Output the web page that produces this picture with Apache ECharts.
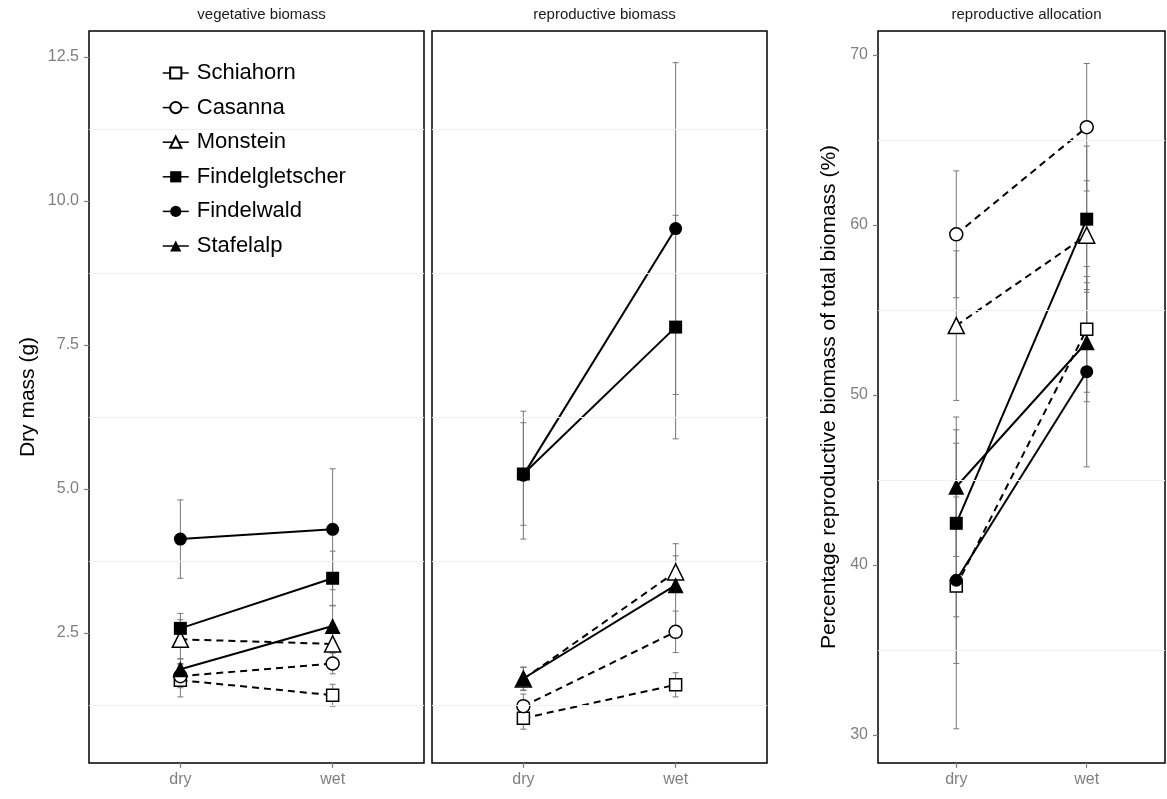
<!DOCTYPE html>
<html>
<head>
<meta charset="utf-8">
<script src="https://cdn.jsdelivr.net/npm/echarts@6/dist/echarts.min.js"></script>
<style>html,body{margin:0;padding:0;background:#fff;}#c{width:1167px;height:799px;}</style>
</head>
<body>
<div id="c"></div>
<script>
// ---- data ----
const sites = ['Schiahorn','Casanna','Monstein','Findelgletscher','Findelwald','Stafelalp'];
const treatments = ['dry','wet'];
const treatmentX = [1, 2];
const panelTitles = ['vegetative biomass','reproductive biomass','reproductive allocation'];
// means [dry, wet] per site (order as sites)
const vegMean = [[1.68,1.42],[1.75,1.97],[2.39,2.31],[2.58,3.45],[4.13,4.30],[1.87,2.62]];
const vegErr  = [[0.29,0.19],[0.20,0.18],[0.34,0.30],[0.26,0.47],[0.68,1.05],[0.18,0.35]];
const repMean = [[1.02,1.60],[1.23,2.52],[1.70,3.56],[5.26,7.81],[5.24,9.52],[1.71,3.33]];
const repErr  = [[0.19,0.21],[0.21,0.36],[0.20,0.28],[0.89,1.94],[1.11,2.88],[0.20,0.72]];
const allocMean = [[38.76,53.86],[59.45,65.75],[54.08,59.40],[42.45,60.34],[39.10,51.37],[44.60,53.10]];
const allocErr  = [[8.40,3.70],[3.73,3.75],[4.40,3.20],[5.50,4.30],[4.90,5.60],[4.10,3.50]];
const massTicks = [2.5, 5.0, 7.5, 10.0, 12.5];
const massMinor = [1.25, 3.75, 6.25, 8.75, 11.25];
const allocTicks = [30, 40, 50, 60, 70];
const allocMinor = [35, 45, 55, 65];

// ---- styles ----
const symbols = ['rect','circle','triangle','rect','circle','triangle'];
const symSizes = [12, 13, 16, 13, 13, 16];
const filled = [false,false,false,true,true,true];
const dashed = [true,true,true,false,false,false];
const FONT = 'Liberation Sans, Arial, Helvetica, sans-serif';

const grids = [
  {left: 89, top: 31, width: 335, height: 732},
  {left: 432, top: 31, width: 335, height: 732},
  {left: 878, top: 31, width: 287, height: 732}
].map(g => Object.assign(g, {show: true, borderColor: '#000', borderWidth: 1.5, backgroundColor: '#fff', containLabel: false}));

function xAxis(i) {
  return {
    type: 'value', gridIndex: i, min: 0.4, max: 2.6,
    splitLine: {show: false}, axisLine: {show: false},
    axisTick: {show: true, length: 5, lineStyle: {color: '#7f7f7f', width: 1.2}, customValues: treatmentX},
    axisLabel: {show: true, color: '#7f7f7f', fontSize: 16, fontFamily: FONT, margin: 9,
      customValues: treatmentX, formatter: v => treatments[treatmentX.indexOf(v)] || ''}
  };
}
function yAxis(i, min, max, ticks, showLabels, name, nameGap) {
  return {
    type: 'value', gridIndex: i, min: min, max: max,
    splitLine: {show: false}, axisLine: {show: false},
    axisTick: {show: showLabels, length: 5, lineStyle: {color: '#7f7f7f', width: 1.2}, customValues: ticks},
    axisLabel: {show: showLabels, color: '#7f7f7f', fontSize: 16, fontFamily: FONT, margin: 10,
      customValues: ticks, formatter: v => (max > 20) ? String(Math.round(v)) : v.toFixed(1)},
    name: name, nameLocation: 'middle', nameGap: nameGap,
    nameTextStyle: {color: '#000', fontSize: 21, fontFamily: FONT}
  };
}

const series = [];
const panels = [
  {mean: vegMean, err: vegErr, minor: massMinor},
  {mean: repMean, err: repErr, minor: massMinor},
  {mean: allocMean, err: allocErr, minor: allocMinor}
];
panels.forEach((p, pi) => {
  // faint minor grid lines
  series.push({
    type: 'line', xAxisIndex: pi, yAxisIndex: pi, data: [], z: 0, silent: true,
    markLine: {silent: true, symbol: 'none', label: {show: false}, animation: false,
      lineStyle: {color: '#f0f0f0', width: 1, type: 'solid'},
      data: p.minor.map(v => ({yAxis: v}))}
  });
  // error bars
  const ebData = [];
  sites.forEach((s, si) => {
    treatmentX.forEach((x, ti) => ebData.push([x, p.mean[si][ti], p.err[si][ti]]));
  });
  series.push({
    type: 'custom', xAxisIndex: pi, yAxisIndex: pi, z: 1, silent: true,
    encode: {x: 0, y: 1},
    data: ebData,
    renderItem: function (params, api) {
      const x = api.value(0), y = api.value(1), e = api.value(2);
      const top = api.coord([x, y + e]);
      const bot = api.coord([x, y - e]);
      const w = 3;
      const st = {stroke: '#777', lineWidth: 1};
      return {type: 'group', children: [
        {type: 'line', shape: {x1: top[0], y1: top[1], x2: bot[0], y2: bot[1]}, style: st},
        {type: 'line', shape: {x1: top[0] - w, y1: top[1], x2: top[0] + w, y2: top[1]}, style: st},
        {type: 'line', shape: {x1: bot[0] - w, y1: bot[1], x2: bot[0] + w, y2: bot[1]}, style: st}
      ]};
    }
  });
  // lines + points
  sites.forEach((s, si) => {
    series.push({
      name: s, type: 'line', xAxisIndex: pi, yAxisIndex: pi, z: 3,
      data: treatmentX.map((x, ti) => [x, p.mean[si][ti]]),
      symbol: symbols[si], symbolSize: symSizes[si], showSymbol: true,
      lineStyle: {color: '#000', width: 2, type: dashed[si] ? [7, 5] : 'solid'},
      itemStyle: {color: filled[si] ? '#000' : '#fff', borderColor: '#000', borderWidth: filled[si] ? 0 : 1.5, opacity: 1},
      emphasis: {disabled: true},
      animation: false
    });
  });
});

const centers = [89 + 335 / 2, 432 + 335 / 2, 878 + 287 / 2];
const option = {
  animation: false,
  backgroundColor: '#fff',
  title: panelTitles.map((t, i) => ({
    text: t, left: centers[i], top: 2, textAlign: 'center',
    textStyle: {fontSize: 15, fontWeight: 'normal', color: '#1a1a1a', fontFamily: FONT}
  })),
  legend: {
    data: sites, orient: 'vertical', left: 149, top: 53,
    backgroundColor: '#fff', padding: [8, 10, 8, 13],
    itemWidth: 26, itemHeight: 14, itemGap: 10.6,
    lineStyle: {type: 'solid', width: 1.5},
    textStyle: {fontSize: 22, color: '#000', fontFamily: FONT, lineHeight: 24, padding: [0, 0, 0, 3]},
    selectedMode: false
  },
  grid: grids,
  xAxis: [xAxis(0), xAxis(1), xAxis(2)],
  yAxis: [
    yAxis(0, 0.243, 12.95, massTicks, true, 'Dry mass (g)', 50),
    yAxis(1, 0.243, 12.95, massTicks, false, '', 0),
    yAxis(2, 28.35, 71.41, allocTicks, true, 'Percentage reproductive biomass of total biomass (%)', 38)
  ],
  series: series
};
const chart = echarts.init(document.getElementById('c'), null, {renderer: 'canvas'});
chart.setOption(option);
</script>
</body>
</html>
